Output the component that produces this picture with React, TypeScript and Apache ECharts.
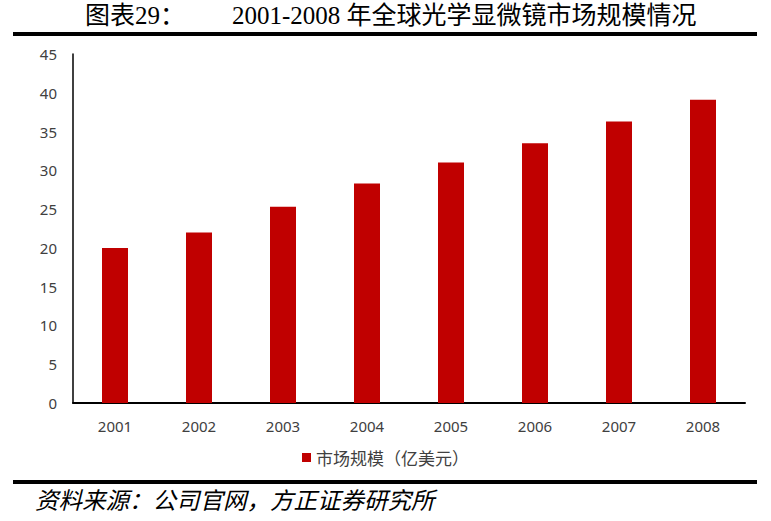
import React, { useEffect, useRef } from "react";
import * as echarts from "echarts";

const years = ["2001", "2002", "2003", "2004", "2005", "2006", "2007", "2008"];
const marketSize = [20.0, 22.0, 25.3, 28.3, 31.0, 33.5, 36.3, 39.1];
const seriesName = "市场规模（亿美元）";
const titleLabel = "图表29：";
const titleText = "2001-2008 年全球光学显微镜市场规模情况";
const sourceText = "资料来源：公司官网，方正证券研究所";

export default function App() {
  const ref = useRef<HTMLDivElement>(null);
  useEffect(() => {
    if (!ref.current) return;
    const chart = echarts.init(ref.current, undefined, { renderer: "svg" });
    chart.setOption({
      animation: false,
      backgroundColor: "#ffffff",
      grid: { left: 73, right: 26, top: 54, bottom: 118, containLabel: false },
      legend: {
        data: [seriesName],
        top: 444,
        left: "center",
        itemWidth: 9,
        itemHeight: 9,
        itemGap: 6,
        icon: "rect",
        textStyle: { fontFamily: "Noto Sans CJK SC", fontSize: 17, color: "#404040" },
      },
      xAxis: {
        type: "category",
        data: years,
        axisLine: { lineStyle: { color: "#000", width: 2 } },
        axisTick: { show: false },
        axisLabel: { color: "#404040", fontSize: 15, fontFamily: "Noto Sans", margin: 15 },
      },
      yAxis: {
        type: "value",
        min: 0,
        max: 45,
        interval: 5,
        splitLine: { show: false },
        axisLine: { show: true, lineStyle: { color: "#000", width: 1.5 } },
        axisTick: { show: false },
        axisLabel: { color: "#404040", fontSize: 15, fontFamily: "Noto Sans", margin: 16 },
      },
      series: [
        {
          name: seriesName,
          type: "bar",
          data: marketSize,
          barWidth: 26,
          itemStyle: { color: "#C00000" },
        },
      ],
      graphic: [
        {
          type: "text",
          left: 85,
          top: 3,
          style: {
            text: titleLabel,
            font: "25px 'Liberation Serif', 'Noto Sans CJK SC'",
            fill: "#000",
          },
        },
        {
          type: "text",
          left: 232,
          top: 3,
          style: {
            text: titleText,
            font: "25px 'Liberation Serif', 'Noto Sans CJK SC'",
            fill: "#000",
          },
        },
        {
          type: "rect",
          shape: { x: 13, y: 32, width: 744, height: 4 },
          style: { fill: "#000" },
        },
        {
          type: "rect",
          shape: { x: 13, y: 480, width: 744, height: 4 },
          style: { fill: "#000" },
        },
        {
          type: "text",
          left: 35,
          top: 487,
          style: {
            text: sourceText,
            font: "italic 23.5px 'Noto Sans CJK SC'",
            fill: "#000",
          },
        },
      ],
    });
    return () => chart.dispose();
  }, []);
  return (
    <div
      ref={ref}
      style={{ position: "fixed", left: 0, top: 0, width: 771, height: 521, background: "#fff" }}
    />
  );
}
